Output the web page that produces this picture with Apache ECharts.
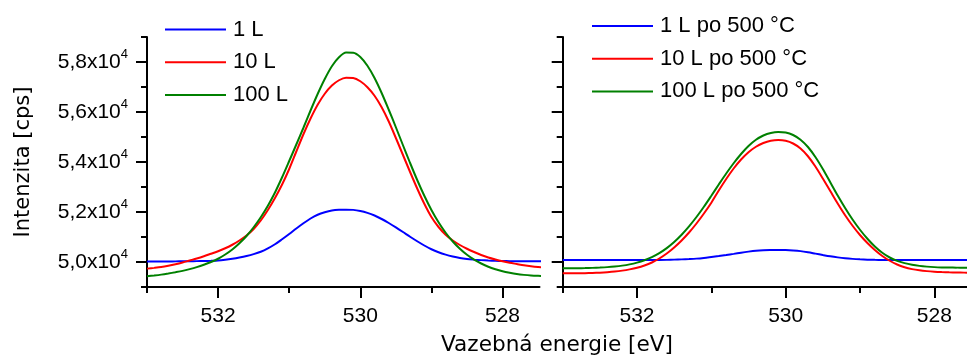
<!DOCTYPE html>
<html>
<head>
<meta charset="utf-8">
<script src="https://cdn.jsdelivr.net/npm/echarts@6/dist/echarts.min.js"></script>
<style>
html, body { margin: 0; padding: 0; background: #fff; }
#chart { width: 967px; height: 358px; }
</style>
</head>
<body>
<div id="chart"></div>
<script>
// Binding energy grid (eV), 0.1 eV step from 533.0 down to 527.4
const energy = [
  533.0, 532.9, 532.8, 532.7, 532.6, 532.5, 532.4, 532.3, 532.2, 532.1,
  532.0, 531.9, 531.8, 531.7, 531.6, 531.5, 531.4, 531.3, 531.2, 531.1,
  531.0, 530.9, 530.8, 530.7, 530.6, 530.5, 530.4, 530.3, 530.2, 530.1,
  530.0, 529.9, 529.8, 529.7, 529.6, 529.5, 529.4, 529.3, 529.2, 529.1,
  529.0, 528.9, 528.8, 528.7, 528.6, 528.5, 528.4, 528.3, 528.2, 528.1,
  528.0, 527.9, 527.8, 527.7, 527.6, 527.5, 527.4];

// O 1s intensity after exposure (cps)
const exp1L = [
  50020, 50020, 50020, 50022, 50025, 50027, 50030, 50035, 50040, 50048,
  50060, 50090, 50130, 50180, 50240, 50315, 50410, 50545, 50710, 50910,
  51120, 51340, 51550, 51740, 51890, 51990, 52060, 52090, 52095, 52085,
  52040, 51965, 51860, 51720, 51560, 51385, 51200, 51010, 50830, 50660,
  50510, 50390, 50295, 50220, 50160, 50120, 50095, 50075, 50060, 50048,
  50040, 50035, 50030, 50030, 50030, 50030, 50030];
const exp10L = [
  49735, 49765, 49800, 49850, 49910, 49980, 50060, 50140, 50230, 50330,
  50430, 50550, 50690, 50860, 51060, 51320, 51660, 52080, 52560, 53100,
  53720, 54420, 55110, 55740, 56290, 56730, 57056, 57270, 57371, 57360,
  57230, 56990, 56650, 56190, 55620, 54960, 54280, 53600, 52940, 52330,
  51800, 51400, 51090, 50860, 50680, 50530, 50400, 50280, 50180, 50100,
  50030, 49970, 49920, 49870, 49830, 49800, 49780];
const exp100L = [
  49430, 49460, 49495, 49540, 49590, 49645, 49715, 49795, 49890, 50000,
  50130, 50300, 50500, 50750, 51040, 51390, 51790, 52250, 52780, 53390,
  54040, 54700, 55370, 56060, 56720, 57320, 57830, 58190, 58380, 58370,
  58200, 57850, 57360, 56760, 56090, 55390, 54670, 53960, 53280, 52650,
  52080, 51590, 51170, 50820, 50530, 50290, 50095, 49940, 49810, 49710,
  49630, 49570, 49520, 49485, 49460, 49447, 49440];

// Same exposures followed by annealing at 500 °C (cps)
const ann1L = [
  50080, 50080, 50080, 50080, 50080, 50080, 50080, 50080, 50080, 50080,
  50080, 50080, 50080, 50080, 50085, 50095, 50105, 50118, 50135, 50163,
  50200, 50238, 50280, 50325, 50373, 50415, 50450, 50470, 50478, 50482,
  50478, 50462, 50435, 50390, 50335, 50280, 50228, 50185, 50150, 50125,
  50107, 50094, 50086, 50082, 50080, 50080, 50080, 50080, 50080, 50080,
  50080, 50080, 50080, 50080, 50080, 50080, 50080];
const ann10L = [
  49547, 49547, 49548, 49552, 49560, 49573, 49592, 49618, 49655, 49705,
  49770, 49860, 49980, 50140, 50340, 50580, 50860, 51180, 51540, 51940,
  52373, 52860, 53320, 53740, 54100, 54390, 54610, 54760, 54850, 54880,
  54850, 54740, 54540, 54230, 53820, 53340, 52840, 52340, 51870, 51450,
  51080, 50760, 50480, 50240, 50050, 49900, 49790, 49715, 49667, 49635,
  49613, 49598, 49587, 49580, 49575, 49573, 49573];
const ann100L = [
  49747, 49747, 49750, 49756, 49765, 49778, 49795, 49820, 49855, 49905,
  49975, 50070, 50195, 50355, 50555, 50800, 51090, 51425, 51800, 52210,
  52650, 53100, 53540, 53950, 54320, 54640, 54890, 55060, 55160, 55200,
  55180, 55080, 54890, 54600, 54200, 53720, 53190, 52660, 52160, 51700,
  51290, 50930, 50620, 50370, 50180, 50045, 49955, 49890, 49845, 49815,
  49795, 49783, 49777, 49775, 49773, 49773, 49773];

const namesLeft = ['1 L', '10 L', '100 L'];
const namesRight = ['1 L po 500 °C', '10 L po 500 °C', '100 L po 500 °C'];
const colors = ['#0000ff', '#ff0000', '#008000'];

const xMajorTicks = [532, 530, 528];
const xMinorTicks = [533, 531, 529];
const yMajorTicks = [50000, 52000, 54000, 56000, 58000];
const yMinorTicks = [49000, 51000, 53000, 55000, 57000, 59000];

const AXIS_COLOR = '#000';
const labelFont = 'Liberation Sans';
const titleFont = 'DejaVu Sans';

function pairs(ys) {
  return energy.map((e, i) => [e, ys[i]]);
}

function xAxisPair(gridIndex, min) {
  const base = {
    type: 'value', gridIndex, inverse: true, min, max: 533, position: 'bottom',
    splitLine: { show: false }
  };
  return [
    Object.assign({}, base, {
      axisLine: { show: true, onZero: false, lineStyle: { color: AXIS_COLOR, width: 2 } },
      axisTick: { show: true, length: 11, customValues: xMajorTicks,
                  lineStyle: { color: AXIS_COLOR, width: 2 } },
      axisLabel: { show: true, customValues: xMajorTicks, margin: 19,
                   fontSize: 21, fontFamily: labelFont, color: '#000' }
    }),
    Object.assign({}, base, {
      axisLine: { show: false, onZero: false },
      axisTick: { show: true, length: 6, customValues: xMinorTicks,
                  lineStyle: { color: AXIS_COLOR, width: 2 } },
      axisLabel: { show: false }
    })
  ];
}

function yAxisPair(gridIndex, withLabels) {
  const base = {
    type: 'value', gridIndex, min: 49000, max: 59000, position: 'left',
    splitLine: { show: false }
  };
  const major = Object.assign({}, base, {
    axisLine: { show: true, onZero: false, lineStyle: { color: AXIS_COLOR, width: 2 } },
    axisTick: { show: true, length: 11, customValues: yMajorTicks,
                lineStyle: { color: AXIS_COLOR, width: 2 } },
    axisLabel: withLabels ? {
      show: true, customValues: yMajorTicks, margin: 19,
      formatter: v => '{m|' + (v / 10000).toFixed(1).replace('.', ',') + 'x10}{s|4}',
      rich: {
        m: { fontSize: 21, fontFamily: labelFont, color: '#000', lineHeight: 28 },
        s: { fontSize: 13, fontFamily: labelFont, color: '#000', lineHeight: 13, verticalAlign: 'top' }
      }
    } : { show: false }
  });
  if (withLabels) {
    Object.assign(major, {
      name: 'Intenzita [cps]', nameLocation: 'middle', nameRotate: 90, nameGap: 113,
      nameTextStyle: { fontSize: 21, fontFamily: titleFont, color: '#000' }
    });
  }
  const minor = Object.assign({}, base, {
    axisLine: { show: false, onZero: false },
    axisTick: { show: true, length: 6, customValues: yMinorTicks,
                lineStyle: { color: AXIS_COLOR, width: 2 } },
    axisLabel: { show: false }
  });
  return [major, minor];
}

function lineSeries(name, ys, axisIndex, color) {
  return {
    name, type: 'line', data: pairs(ys), xAxisIndex: axisIndex, yAxisIndex: axisIndex,
    smooth: 0.3, symbol: 'none', clip: true,
    lineStyle: { color, width: 2 }, itemStyle: { color }
  };
}

function legendFor(names, left, top) {
  return {
    data: names, orient: 'vertical', left, top, padding: 0, selectedMode: false,
    icon: 'rect', itemWidth: 61, itemHeight: 2, itemGap: 10.7,
    itemStyle: { borderWidth: 0 },
    textStyle: { fontSize: 22, fontFamily: labelFont, color: '#000', lineHeight: 22,
                 padding: [0, 0, 0, 2] }
  };
}

const chart = echarts.init(document.getElementById('chart'), null, { renderer: 'canvas' });
chart.setOption({
  animation: false,
  backgroundColor: '#fff',
  grid: [
    { left: 147, right: 427.5, top: 37, bottom: 71 },
    { left: 562.7, right: 0, top: 37, bottom: 71 }
  ],
  xAxis: [...xAxisPair(0, 527.48), ...xAxisPair(1, 527.56)],
  yAxis: [...yAxisPair(0, true), ...yAxisPair(1, false)],
  legend: [legendFor(namesLeft, 165, 18.5), legendFor(namesRight, 592, 15)],
  series: [
    lineSeries(namesLeft[0], exp1L, 0, colors[0]),
    lineSeries(namesLeft[1], exp10L, 0, colors[1]),
    lineSeries(namesLeft[2], exp100L, 0, colors[2]),
    lineSeries(namesRight[0], ann1L, 2, colors[0]),
    lineSeries(namesRight[1], ann10L, 2, colors[1]),
    lineSeries(namesRight[2], ann100L, 2, colors[2])
  ],
  graphic: [{
    type: 'text', x: 557, y: 345.5, silent: true,
    style: { text: 'Vazebná energie [eV]', fill: '#000', font: '21.6px "DejaVu Sans"',
             align: 'center', verticalAlign: 'middle' }
  }]
});
</script>
</body>
</html>
